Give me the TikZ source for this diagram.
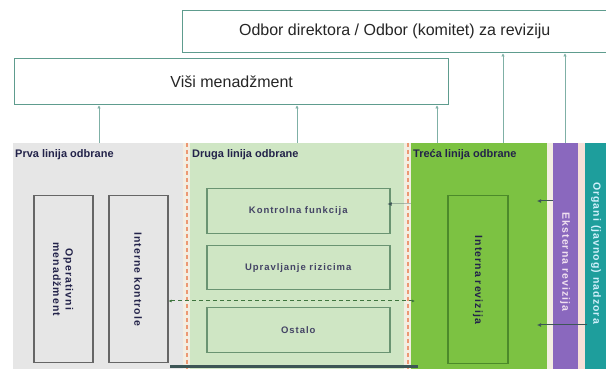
\documentclass[tikz,border=0pt]{standalone}
\usepackage{fontspec}
\setmainfont{Liberation Sans}
\newfontfamily\spacedfont[LetterSpace=10]{Liberation Sans}
\usetikzlibrary{arrows.meta}

\definecolor{boxline}{HTML}{5E9C8E}
\definecolor{connline}{HTML}{7FB0A6}
\definecolor{panelgray}{HTML}{E6E6E6}
\definecolor{panellight}{HTML}{CFE6C4}
\definecolor{panelgreen}{HTML}{7CC242}
\definecolor{panelpurple}{HTML}{8A68BE}
\definecolor{panelteal}{HTML}{1E9E9C}
\definecolor{stripbg}{HTML}{F3EEE2}
\definecolor{dashcol}{HTML}{EC9873}
\definecolor{navy}{HTML}{23234A}
\definecolor{darkbar}{HTML}{3D5656}
\definecolor{midbox}{HTML}{6A9472}
\definecolor{irbox}{HTML}{4C8A2A}

\tikzset{
  topbox/.style={draw=boxline, line width=1.4pt, fill=white, inner sep=0pt,
    font=\fontsize{16}{18}\selectfont, text=black!85},
  panel/.style={inner sep=0pt, anchor=north west},
  ptitle/.style={anchor=west, inner sep=0pt, font=\bfseries\fontsize{11}{12}\selectfont, text=navy},
  innerbox/.style={draw, line width=1.5pt, inner sep=0pt, anchor=north west},
  vtext/.style={rotate=-90, inner sep=0pt, align=center,
    font=\spacedfont\bfseries\fontsize{10.5}{12.5}\selectfont, text=navy},
  htext/.style={inner sep=0pt, font=\spacedfont\bfseries\fontsize{9.5}{11}\selectfont, text=navy!85},
  conn/.style={draw=connline, line width=0.8pt, -{Latex[length=3pt,width=3.5pt]}},
  link/.style={draw=darkbar, line width=1pt, -{Latex[length=4pt,width=4pt]}},
  sepline/.style={draw=dashcol, line width=2pt, dash pattern=on 4pt off 3pt}
}

\begin{document}
\begin{tikzpicture}[x=1pt,y=-1pt]
\useasboundingbox (0,0) rectangle (606,371);
\fill[white] (0,0) rectangle (606,371);

% governance boxes
\node[topbox, minimum width=424pt, minimum height=42pt, anchor=north west] (odbor) at (182,10)
  {Odbor direktora / Odbor (komitet) za reviziju};
\node[topbox, minimum width=434pt, minimum height=46pt, anchor=north west] (vm) at (14,58)
  {Viši menadžment};

% the three lines of defence and the external bodies
\node[panel, fill=panelgray,   minimum width=171pt, minimum height=226pt] (prva)  at (13,143) {};
\node[panel, fill=stripbg,     minimum width=7pt,   minimum height=226pt] (sepa)  at (183,143) {};
\node[panel, fill=panellight,  minimum width=215pt, minimum height=226pt] (druga) at (190,143) {};
\node[panel, fill=stripbg,     minimum width=7pt,   minimum height=226pt] (sepb)  at (404,143) {};
\node[panel, fill=panelgreen,  minimum width=136pt, minimum height=226pt] (treca) at (411,143) {};
\node[panel, fill=stripbg,     minimum width=6pt,   minimum height=226pt] (sepc)  at (547,143) {};
\node[panel, fill=panelpurple, minimum width=25pt,  minimum height=226pt] (eks)   at (553,143) {};
\node[panel, fill=stripbg!70!pink, minimum width=7pt, minimum height=226pt] (sepd) at (578,143) {};
\node[panel, fill=panelteal,   minimum width=21pt,  minimum height=226pt] (org)   at (585,143) {};

\draw[sepline] (sepa.north) -- (sepa.south);
\draw[sepline] (sepb.north) -- (sepb.south);

% panel titles
\node[ptitle] (t1) at (15,155)  {Prva linija odbrane};
\node[ptitle] (t2) at (192,155) {Druga linija odbrane};
\node[ptitle] (t3) at (413,155) {Treća linija odbrane};

% first line
\node[innerbox, draw=gray!80!black, fill=panelgray, minimum width=59pt, minimum height=167pt] (opm) at (33,195) {};
\node[vtext] (opmt) at (opm.center) {Operativni\\menadžment};
\node[innerbox, draw=gray!80!black, fill=panelgray, minimum width=59pt, minimum height=167pt] (ik) at (108,195) {};
\node[vtext] (ikt) at (ik.center) {Interne kontrole};

% second line
\node[innerbox, draw=midbox, fill=panellight, minimum width=183pt, minimum height=45pt] (b1) at (206,188) {};
\node[htext] (b1t) at (b1.center) {Kontrolna funkcija};
\node[innerbox, draw=midbox, fill=panellight, minimum width=183pt, minimum height=44pt] (b2) at (206,245) {};
\node[htext] (b2t) at (b2.center) {Upravljanje rizicima};
\node[innerbox, draw=midbox, fill=panellight, minimum width=183pt, minimum height=45pt] (b3) at (206,307) {};
\node[htext] (b3t) at (b3.center) {Ostalo};

% third line
\node[innerbox, draw=irbox, fill=panelgreen, minimum width=60pt, minimum height=168pt] (ir) at (447,195) {};
\node[vtext] (irt) at (ir.center) {Interna revizija};

% external bodies
\node[vtext, text=white!88!violet] (ekst) at (565,262) {Eksterna revizija};
\node[vtext, text=cyan!18] (orgt) at (596,253) {Organi (javnog) nadzora};

% reporting lines to the governance boxes
\coordinate (c1) at (99,143);
\coordinate (c2) at (297,143);
\coordinate (c3) at (437,143);
\coordinate (c4) at (503,143);
\coordinate (c5) at (565,143);
\draw[conn] (c1) -- (vm.south -| c1);
\draw[conn] (c2) -- (vm.south -| c2);
\draw[conn] (c3) -- (vm.south -| c3);
\draw[conn] (c4) -- (odbor.south -| c4);
\draw[conn] (c5) -- (odbor.south -| c5);

% links between the lines
\coordinate (a1) at (411,204);
\coordinate (a2) at (553,201);
\coordinate (a3) at (537,201);
\coordinate (a4) at (587,325);
\coordinate (a5) at (537,325);
\coordinate (d1) at (415,301);
\coordinate (e1) at (170,367);
\coordinate (e2) at (418,367);
\draw[link] (a1) -- (b1.east |- a1) -- ++(-3,0);
\draw[link] (a2) -- (a3);
\draw[link] (a4) -- (a5);
\draw[gray!70!green!70!black, line width=1pt, dash pattern=on 4pt off 3pt,
  {Latex[length=3pt,width=3pt]}-{Latex[length=3pt,width=3pt]}]
  (ik.east |- d1) -- (d1);
\draw[darkbar, line width=3pt] (e1) -- (e2);
\end{tikzpicture}
\end{document}
